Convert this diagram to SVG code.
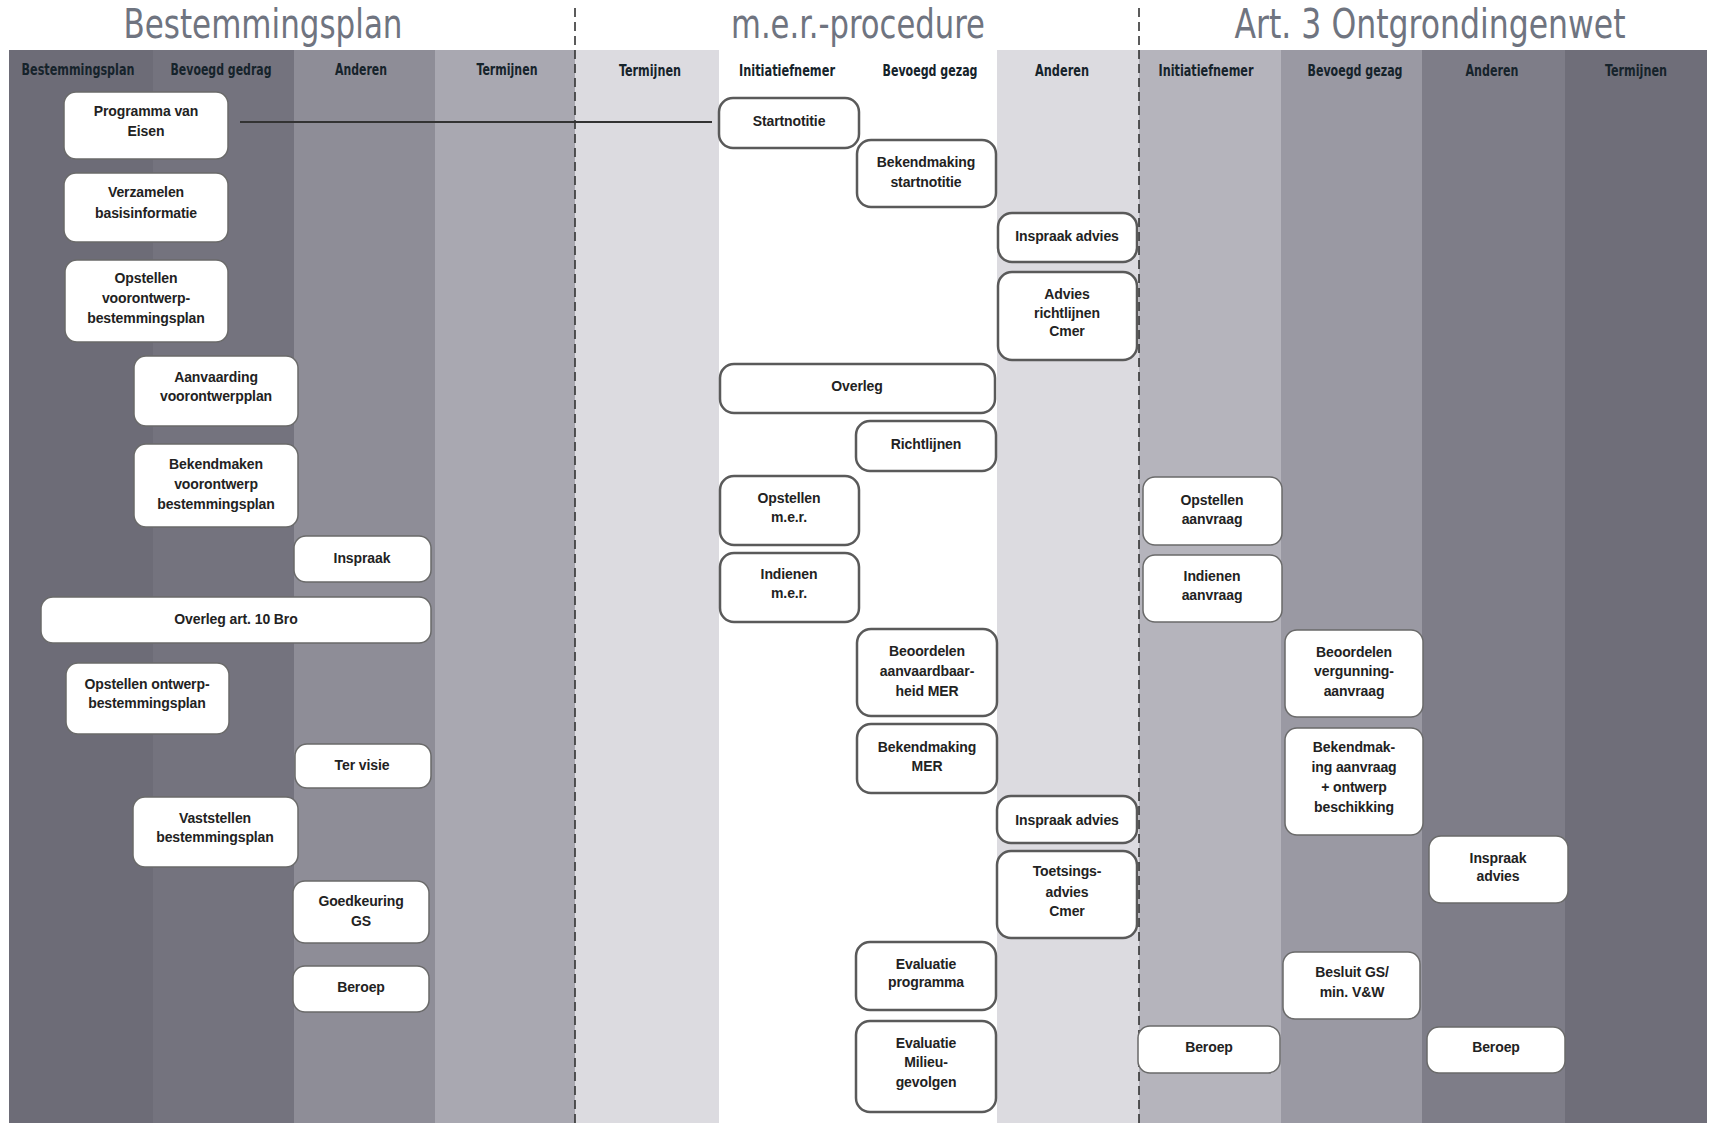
<svg xmlns="http://www.w3.org/2000/svg" width="1709" height="1127" viewBox="0 0 1709 1127">
<style>
.title{font-family:"DejaVu Sans Condensed","Liberation Sans",sans-serif;font-size:41px;fill:#6f7480;text-anchor:middle}
.hdr{font-family:"DejaVu Sans Condensed","Liberation Sans",sans-serif;font-weight:bold;font-size:15px;fill:#16232b;text-anchor:middle}
.box{fill:#ffffff;stroke:#6a6a6a;stroke-width:1.5}
.box2{fill:#ffffff;stroke:#5a5a5a;stroke-width:2.5}
.t{font-family:"Liberation Sans",Arial,sans-serif;font-weight:bold;font-size:14px;fill:#222;text-anchor:middle;letter-spacing:-0.1px}
.dash{stroke:#333;stroke-width:1.6;stroke-dasharray:9 5;fill:none}
.conn{stroke:#333;stroke-width:2;fill:none}
</style>
<rect x="0" y="0" width="1709" height="1127" fill="#ffffff"/>
<g id="lanes">
<rect x="9" y="50" width="144" height="1073" fill="#6d6c77"/>
<rect x="153" y="50" width="141" height="1073" fill="#74737e"/>
<rect x="294" y="50" width="141" height="1073" fill="#8e8d97"/>
<rect x="435" y="50" width="140" height="1073" fill="#a9a8b1"/>
<rect x="575" y="50" width="144" height="1073" fill="#dcdbe0"/>
<rect x="719" y="50" width="278" height="1073" fill="#ffffff"/>
<rect x="997" y="50" width="142" height="1073" fill="#dcdbe0"/>
<rect x="1139" y="50" width="142" height="1073" fill="#b5b4bc"/>
<rect x="1281" y="50" width="141" height="1073" fill="#9a99a3"/>
<rect x="1422" y="50" width="143" height="1073" fill="#7e7d88"/>
<rect x="1565" y="50" width="142" height="1073" fill="#6f6e79"/>
</g>
<g id="titles">
<text class="title" x="263" y="38" textLength="279" lengthAdjust="spacingAndGlyphs">Bestemmingsplan</text>
<text class="title" x="858" y="38" textLength="254" lengthAdjust="spacingAndGlyphs">m.e.r.-procedure</text>
<text class="title" x="1430" y="38" textLength="391" lengthAdjust="spacingAndGlyphs">Art. 3 Ontgrondingenwet</text>
</g>
<g id="headers">
<text class="hdr" x="78" y="75" textLength="113" lengthAdjust="spacingAndGlyphs">Bestemmingsplan</text>
<text class="hdr" x="221" y="75" textLength="101" lengthAdjust="spacingAndGlyphs">Bevoegd gedrag</text>
<text class="hdr" x="361" y="75" textLength="52" lengthAdjust="spacingAndGlyphs">Anderen</text>
<text class="hdr" x="507" y="75" textLength="61" lengthAdjust="spacingAndGlyphs">Termijnen</text>
<text class="hdr" x="650" y="76" textLength="62" lengthAdjust="spacingAndGlyphs">Termijnen</text>
<text class="hdr" x="787" y="76" textLength="96" lengthAdjust="spacingAndGlyphs">Initiatiefnemer</text>
<text class="hdr" x="930" y="76" textLength="95" lengthAdjust="spacingAndGlyphs">Bevoegd gezag</text>
<text class="hdr" x="1062" y="76" textLength="54" lengthAdjust="spacingAndGlyphs">Anderen</text>
<text class="hdr" x="1206" y="76" textLength="95" lengthAdjust="spacingAndGlyphs">Initiatiefnemer</text>
<text class="hdr" x="1355" y="76" textLength="95" lengthAdjust="spacingAndGlyphs">Bevoegd gezag</text>
<text class="hdr" x="1492" y="76" textLength="53" lengthAdjust="spacingAndGlyphs">Anderen</text>
<text class="hdr" x="1636" y="76" textLength="62" lengthAdjust="spacingAndGlyphs">Termijnen</text>
</g>
<g id="dividers">
<line class="dash" x1="575" y1="8" x2="575" y2="1127"/>
<line class="dash" x1="1139" y1="8" x2="1139" y2="1127"/>
</g>
<g id="connectors">
<line class="conn" x1="240" y1="122" x2="712" y2="122"/>
</g>
<g id="n1"><rect class="box" x="64" y="92" width="164" height="67" rx="12"/><text class="t" x="146" y="116">Programma van</text><text class="t" x="146" y="136">Eisen</text></g>
<g id="n2"><rect class="box" x="64" y="173" width="164" height="69" rx="12"/><text class="t" x="146" y="197">Verzamelen</text><text class="t" x="146" y="218">basisinformatie</text></g>
<g id="n3"><rect class="box" x="65" y="260" width="163" height="82" rx="12"/><text class="t" x="146" y="283">Opstellen</text><text class="t" x="146" y="303">voorontwerp-</text><text class="t" x="146" y="323">bestemmingsplan</text></g>
<g id="n4"><rect class="box" x="134" y="356" width="164" height="70" rx="12"/><text class="t" x="216" y="382">Aanvaarding</text><text class="t" x="216" y="401">voorontwerpplan</text></g>
<g id="n5"><rect class="box" x="134" y="444" width="164" height="83" rx="12"/><text class="t" x="216" y="469">Bekendmaken</text><text class="t" x="216" y="489">voorontwerp</text><text class="t" x="216" y="509">bestemmingsplan</text></g>
<g id="n6"><rect class="box" x="294" y="536" width="137" height="46" rx="12"/><text class="t" x="362" y="563">Inspraak</text></g>
<g id="n7"><rect class="box" x="41" y="597" width="390" height="46" rx="12"/><text class="t" x="236" y="624">Overleg art. 10 Bro</text></g>
<g id="n8"><rect class="box" x="66" y="663" width="163" height="71" rx="12"/><text class="t" x="147" y="689">Opstellen ontwerp-</text><text class="t" x="147" y="708">bestemmingsplan</text></g>
<g id="n9"><rect class="box" x="295" y="744" width="136" height="44" rx="12"/><text class="t" x="362" y="770">Ter visie</text></g>
<g id="n10"><rect class="box" x="133" y="797" width="165" height="70" rx="12"/><text class="t" x="215" y="823">Vaststellen</text><text class="t" x="215" y="842">bestemmingsplan</text></g>
<g id="n11"><rect class="box" x="293" y="881" width="136" height="62" rx="12"/><text class="t" x="361" y="906">Goedkeuring</text><text class="t" x="361" y="926">GS</text></g>
<g id="n12"><rect class="box" x="293" y="966" width="136" height="46" rx="12"/><text class="t" x="361" y="992">Beroep</text></g>
<g id="n13"><rect class="box2" x="719" y="98" width="140" height="50" rx="14"/><text class="t" x="789" y="126">Startnotitie</text></g>
<g id="n14"><rect class="box2" x="857" y="140" width="139" height="67" rx="14"/><text class="t" x="926" y="167">Bekendmaking</text><text class="t" x="926" y="187">startnotitie</text></g>
<g id="n15"><rect class="box2" x="998" y="213" width="139" height="49" rx="14"/><text class="t" x="1067" y="241">Inspraak advies</text></g>
<g id="n16"><rect class="box2" x="998" y="272" width="139" height="88" rx="14"/><text class="t" x="1067" y="299">Advies</text><text class="t" x="1067" y="318">richtlijnen</text><text class="t" x="1067" y="336">Cmer</text></g>
<g id="n17"><rect class="box2" x="720" y="364" width="275" height="49" rx="14"/><text class="t" x="857" y="391">Overleg</text></g>
<g id="n18"><rect class="box2" x="856" y="421" width="140" height="50" rx="14"/><text class="t" x="926" y="449">Richtlijnen</text></g>
<g id="n19"><rect class="box2" x="720" y="476" width="139" height="69" rx="14"/><text class="t" x="789" y="503">Opstellen</text><text class="t" x="789" y="522">m.e.r.</text></g>
<g id="n20"><rect class="box2" x="720" y="553" width="139" height="69" rx="14"/><text class="t" x="789" y="579">Indienen</text><text class="t" x="789" y="598">m.e.r.</text></g>
<g id="n21"><rect class="box2" x="857" y="629" width="140" height="87" rx="14"/><text class="t" x="927" y="656">Beoordelen</text><text class="t" x="927" y="676">aanvaardbaar-</text><text class="t" x="927" y="696">heid MER</text></g>
<g id="n22"><rect class="box2" x="857" y="724" width="140" height="69" rx="14"/><text class="t" x="927" y="752">Bekendmaking</text><text class="t" x="927" y="771">MER</text></g>
<g id="n23"><rect class="box2" x="997" y="796" width="140" height="47" rx="14"/><text class="t" x="1067" y="825">Inspraak advies</text></g>
<g id="n24"><rect class="box2" x="997" y="851" width="140" height="87" rx="14"/><text class="t" x="1067" y="876">Toetsings-</text><text class="t" x="1067" y="897">advies</text><text class="t" x="1067" y="916">Cmer</text></g>
<g id="n25"><rect class="box2" x="856" y="942" width="140" height="68" rx="14"/><text class="t" x="926" y="969">Evaluatie</text><text class="t" x="926" y="987">programma</text></g>
<g id="n26"><rect class="box2" x="856" y="1021" width="140" height="91" rx="14"/><text class="t" x="926" y="1048">Evaluatie</text><text class="t" x="926" y="1067">Milieu-</text><text class="t" x="926" y="1087">gevolgen</text></g>
<g id="n27"><rect class="box" x="1143" y="477" width="139" height="68" rx="12"/><text class="t" x="1212" y="505">Opstellen</text><text class="t" x="1212" y="524">aanvraag</text></g>
<g id="n28"><rect class="box" x="1143" y="555" width="139" height="67" rx="12"/><text class="t" x="1212" y="581">Indienen</text><text class="t" x="1212" y="600">aanvraag</text></g>
<g id="n29"><rect class="box" x="1285" y="630" width="138" height="87" rx="12"/><text class="t" x="1354" y="657">Beoordelen</text><text class="t" x="1354" y="676">vergunning-</text><text class="t" x="1354" y="696">aanvraag</text></g>
<g id="n30"><rect class="box" x="1285" y="728" width="138" height="107" rx="12"/><text class="t" x="1354" y="752">Bekendmak-</text><text class="t" x="1354" y="772">ing aanvraag</text><text class="t" x="1354" y="792">+ ontwerp</text><text class="t" x="1354" y="812">beschikking</text></g>
<g id="n31"><rect class="box" x="1429" y="836" width="139" height="67" rx="12"/><text class="t" x="1498" y="863">Inspraak</text><text class="t" x="1498" y="881">advies</text></g>
<g id="n32"><rect class="box" x="1283" y="952" width="137" height="67" rx="12"/><text class="t" x="1352" y="977">Besluit GS/</text><text class="t" x="1352" y="997">min. V&amp;W</text></g>
<g id="n33"><rect class="box" x="1138" y="1026" width="142" height="47" rx="12"/><text class="t" x="1209" y="1052">Beroep</text></g>
<g id="n34"><rect class="box" x="1427" y="1027" width="138" height="46" rx="12"/><text class="t" x="1496" y="1052">Beroep</text></g>
</svg>
